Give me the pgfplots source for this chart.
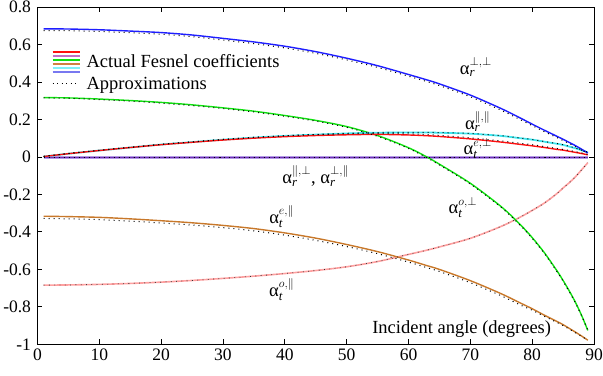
\documentclass[border=0pt]{standalone}
\usepackage{fontspec}
\setmainfont{Liberation Serif}
\usepackage{amsmath}
\usepackage{pgfplots}
\pgfplotsset{compat=1.18}
\usetikzlibrary{calc}
\definecolor{cblue}{HTML}{1E1EFF}
\definecolor{cgreen}{HTML}{10E010}
\definecolor{cred}{HTML}{FF1010}
\definecolor{ccyan}{HTML}{40E8F0}
\definecolor{corange}{HTML}{C8782A}
\definecolor{cpink}{HTML}{FFA0A0}
\definecolor{cpurple}{HTML}{7030B8}
\definecolor{clav}{HTML}{B49AE6}
\definecolor{lgpurple}{HTML}{C070C8}
\definecolor{lgorange}{HTML}{D08040}
\definecolor{lgcyan}{HTML}{80F0F8}
\definecolor{lgblue}{HTML}{7878F0}
\newcommand{\fs}{\fontsize{17.5}{21}\selectfont}
\newcommand{\ft}{\fontsize{18.5}{22}\selectfont}
\newcommand{\al}[2]{$\text{α}_{\textit{#1}}^{#2}$}
\pgfplotstableread{
x blue green red cyan purple orange pink
1 0.685 0.318 0.003 0.003 -0.003 -0.316 -0.684
5 0.684 0.316 0.018 0.018 -0.003 -0.318 -0.683
10 0.680 0.310 0.035 0.035 -0.003 -0.322 -0.680
15 0.673 0.302 0.051 0.051 -0.003 -0.330 -0.675
20 0.665 0.292 0.066 0.067 -0.003 -0.340 -0.668
25 0.652 0.279 0.079 0.080 -0.003 -0.351 -0.659
30 0.634 0.263 0.091 0.093 -0.003 -0.365 -0.648
35 0.615 0.245 0.101 0.104 -0.003 -0.382 -0.636
40 0.592 0.222 0.109 0.113 -0.003 -0.405 -0.622
45 0.563 0.196 0.115 0.120 -0.003 -0.433 -0.606
50 0.528 0.163 0.119 0.126 -0.003 -0.467 -0.586
55 0.488 0.115 0.121 0.130 -0.003 -0.505 -0.558
60 0.441 0.050 0.118 0.131 -0.003 -0.550 -0.520
63 0.412 0.000 0.114 0.131 -0.003 -0.580 -0.497
65 0.391 -0.038 0.110 0.130 -0.003 -0.600 -0.480
70 0.331 -0.140 0.097 0.125 -0.003 -0.660 -0.434
75 0.259 -0.265 0.080 0.113 -0.003 -0.730 -0.370
78 0.210 -0.358 0.068 0.101 -0.003 -0.778 -0.322
80 0.176 -0.430 0.060 0.093 -0.003 -0.810 -0.285
82 0.143 -0.512 0.051 0.082 -0.003 -0.845 -0.245
84 0.111 -0.607 0.041 0.071 -0.003 -0.878 -0.195
85 0.095 -0.659 0.037 0.065 -0.003 -0.895 -0.165
86 0.078 -0.715 0.031 0.056 -0.003 -0.915 -0.137
87 0.061 -0.776 0.025 0.047 -0.003 -0.935 -0.105
88 0.042 -0.846 0.019 0.036 -0.003 -0.956 -0.068
89 0.022 -0.926 0.012 0.025 -0.003 -0.978 -0.030
}\actual
\pgfplotstableread{
x blue green red cyan zero orange pink
1 0.676 0.316 0.004 0.004 0.000 -0.328 -0.684
5 0.675 0.314 0.019 0.019 0.000 -0.330 -0.683
10 0.671 0.307 0.036 0.036 0.000 -0.334 -0.680
15 0.664 0.299 0.052 0.052 0.000 -0.342 -0.675
20 0.656 0.288 0.068 0.068 0.000 -0.352 -0.668
25 0.643 0.275 0.081 0.081 0.000 -0.363 -0.659
30 0.625 0.259 0.094 0.094 0.000 -0.377 -0.648
35 0.606 0.241 0.105 0.105 0.000 -0.394 -0.636
40 0.583 0.218 0.114 0.114 0.000 -0.417 -0.622
45 0.554 0.192 0.120 0.121 0.000 -0.445 -0.606
50 0.519 0.159 0.124 0.127 0.000 -0.478 -0.586
55 0.479 0.111 0.126 0.131 0.000 -0.516 -0.558
60 0.432 0.046 0.124 0.132 0.000 -0.561 -0.520
63 0.403 -0.004 0.120 0.132 0.000 -0.591 -0.497
65 0.382 -0.042 0.116 0.131 0.000 -0.611 -0.480
70 0.322 -0.144 0.103 0.126 0.000 -0.671 -0.434
75 0.250 -0.269 0.086 0.114 0.000 -0.741 -0.370
78 0.201 -0.362 0.074 0.102 0.000 -0.789 -0.322
80 0.168 -0.434 0.066 0.094 0.000 -0.818 -0.285
82 0.135 -0.516 0.056 0.083 0.000 -0.851 -0.245
84 0.104 -0.611 0.046 0.072 0.000 -0.883 -0.195
85 0.088 -0.663 0.041 0.066 0.000 -0.900 -0.165
86 0.072 -0.719 0.035 0.057 0.000 -0.919 -0.137
87 0.055 -0.779 0.029 0.048 0.000 -0.938 -0.105
88 0.037 -0.848 0.022 0.037 0.000 -0.958 -0.068
89 0.018 -0.925 0.014 0.026 0.000 -0.978 -0.030
}\approxi
\begin{document}
\begin{tikzpicture}
\begin{axis}[
  scale only axis, width=556.5pt, height=337pt,
  xmin=0, xmax=90, ymin=-1, ymax=0.8,
  xtick={0,10,20,30,40,50,60,70,80,90},
  xticklabels={0,10,20,30,40,50,60,70,80,90},
  ytick={-1,-0.8,-0.6,-0.4,-0.2,0,0.2,0.4,0.6,0.8},
  yticklabels={-1,-0.8,-0.6,-0.4,-0.2,0,0.2,0.4,0.6,0.8},
  tick align=inside, tick pos=both, major tick length=5pt,
  axis line style={line width=1pt},
  every tick/.style={black, line width=1pt},
  ticklabel style={font=\fs},
  yticklabel style={xshift=-3pt},
  xticklabel style={yshift=-1pt},
  legend style={at={(rel axis cs:0.025,0.87)}, anchor=north west, draw=none, fill=none, font=\ft, legend cell align=left, row sep=2pt, column sep=4pt, inner sep=0pt},
  clip=false,
]
\addlegendimage{legend image code/.code={
  \draw[cred, line width=1.2pt] (0pt,10pt) -- (27pt,10pt);
  \draw[lgpurple, line width=1.8pt] (0pt,6pt) -- (27pt,6pt);
  \draw[cgreen, line width=1.4pt] (0pt,2pt) -- (27pt,2pt);
  \draw[lgorange, line width=1.2pt] (0pt,-2pt) -- (27pt,-2pt);
  \draw[lgcyan, line width=1.6pt] (0pt,-6pt) -- (27pt,-6pt);
  \draw[lgblue, line width=2pt] (0pt,-10pt) -- (27pt,-10pt);
}}
\addlegendimage{legend image code/.code={
  \draw[black, line width=1pt, dash pattern=on 1pt off 3.5pt] (0pt,0pt) -- (27pt,0pt);
}}
\legend{Actual Fesnel coefficients, Approximations}
% actual curves
\addplot[clav, line width=3pt, smooth] table[x=x,y=purple] {\actual};
\addplot[cpurple, line width=1.4pt, smooth] table[x=x,y=purple] {\actual};
\addplot[cpink, line width=1.6pt, smooth] table[x=x,y=pink] {\actual};
\addplot[corange, line width=1.4pt, smooth] table[x=x,y=orange] {\actual};
\addplot[cgreen, line width=1.4pt, smooth] table[x=x,y=green] {\actual};
\addplot[ccyan, line width=1.8pt, smooth] table[x=x,y=cyan] {\actual};
\addplot[cred, line width=1.4pt, smooth] table[x=x,y=red] {\actual};
\addplot[cblue, line width=1.4pt, smooth] table[x=x,y=blue] {\actual};
% approximations
\foreach \c in {blue,green,red,cyan,zero,orange}{
  \addplot[black, line width=1pt, dash pattern=on 1pt off 4pt, smooth] table[x=x,y=\c] {\approxi};
}
\addplot[black!80, line width=0.8pt, dash pattern=on 0.8pt off 4.5pt, smooth] table[x=x,y=pink] {\approxi};
\node[font=\ft] at (axis cs:70.9,0.48) {\al{r}{\perp,\perp}};
\node[font=\ft] at (axis cs:71.2,0.19) {\al{r}{\|,\|}};
\node[font=\ft] at (axis cs:71.2,0.045) {\al{t}{e,\perp}};
\node[font=\ft] at (axis cs:45,-0.10) {\al{r}{\|,\perp}, \al{r}{\perp,\|}};
\node[font=\ft] at (axis cs:39.5,-0.32) {\al{t}{e,\|}};
\node[font=\ft] at (axis cs:39.5,-0.71) {\al{t}{o,\|}};
\node[font=\ft] at (axis cs:68.8,-0.27) {\al{t}{o,\perp}};
\node[font=\ft] at (axis cs:68.6,-0.92) {Incident angle (degrees)};
\coordinate (SW) at (rel axis cs:0,0);
\coordinate (NE) at (rel axis cs:1,1);
\end{axis}
\pgfresetboundingbox
\path ($(SW)+(-37.5pt,-31.7pt)$) rectangle ($(NE)+(9pt,7.3pt)$);
\end{tikzpicture}
\end{document}
